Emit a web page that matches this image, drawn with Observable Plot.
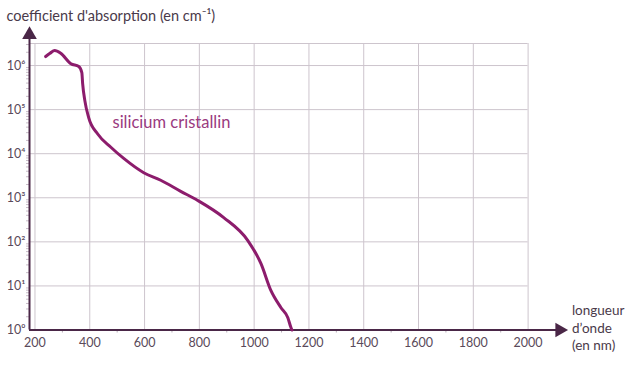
<!DOCTYPE html>
<html><head><meta charset="utf-8">
<script src="https://cdn.jsdelivr.net/npm/d3@7"></script>
<script src="https://cdn.jsdelivr.net/npm/@observablehq/plot@0.6"></script>
<style>body{margin:0;background:#fff;font-family:Raleway,Lato,sans-serif;} </style>
</head><body><div id="chart"></div>
<script>
// wavelength (nm)
const wavelength = [239, 255, 272, 294, 331, 360, 371, 374, 382, 396, 429, 477, 524, 597, 659, 732, 794, 889, 977, 1025, 1061, 1098, 1123, 1134, 1138];
// absorption coefficient (cm^-1)
const absorption = [1.6e6, 1.9e6, 2.2e6, 1.9e6, 1.1e6, 9.5e5, 6.9e5, 3.9e5, 1.6e5, 6.6e4, 2.8e4, 1.4e4, 7.8e3, 3.7e3, 2.5e3, 1.4e3, 870, 355, 107, 32, 7.9, 3.2, 1.9, 1.15, 1.0];
const xTicks = [200, 400, 600, 800, 1000, 1200, 1400, 1600, 1800, 2000];
const xMinorTicks = [300, 500, 700, 900, 1100, 1300, 1500, 1700, 1900];
const yTicks = [1, 10, 100, 1000, 10000, 100000, 1000000];
const seriesLabel = "silicium cristallin";
const yTitle = "coefficient d'absorption (en cm\u207B\u00B9)";
const xTitle = "longueur\nd\u2019onde\n(en nm)";

const sup = {"0":"\u2070","1":"\u00B9","2":"\u00B2","3":"\u00B3","4":"\u2074","5":"\u2075","6":"\u2076"};
const data = wavelength.map((w, i) => ({w, a: absorption[i]}));
const yMinor = [];
for (let e = 0; e < 6; e++) for (let k = 2; k <= 9; k++) yMinor.push(k * 10 ** e);
for (let k = 2; k <= 3; k++) yMinor.push(k * 1e6);

const gridColor = "#cdc5cd";
const axisColor = "#4a2747";
const textColor = "#5a4a5a";
const lineColor = "#8c1c6c";
const xMin = 180, yTop = 10 ** 6.5;

const chart = Plot.plot({
  width: 637, height: 366,
  marginLeft: 29, marginRight: 82, marginTop: 43, marginBottom: 36.5,
  style: {fontFamily: "Lato, sans-serif", fontSize: "12px", color: textColor, background: "#fff", overflow: "visible"},
  x: {domain: [xMin, 2100]},
  y: {type: "log", domain: [1, yTop]},
  marks: [
    Plot.ruleX(xTicks, {y1: 1, y2: yTop, stroke: gridColor, strokeWidth: 1}),
    Plot.ruleY([...yTicks, yTop], {x1: xMin, x2: 2000, stroke: gridColor, strokeWidth: 1}),
    Plot.axisX(xMinorTicks, {tickSize: 3, tickFormat: () => "", stroke: "#b8acb8"}),
    Plot.axisX(xTicks, {tickSize: 0, tickPadding: 8, tickFormat: d => String(d), fill: textColor, fontSize: 12.5, label: null}),
    Plot.axisY(yMinor, {tickSize: 3, tickFormat: () => "", stroke: "#c8bcc8"}),
    Plot.axisY(yTicks, {tickSize: 0, tickPadding: 4, tickFormat: d => "10" + sup[String(Math.round(Math.log10(d)))], fill: textColor, fontSize: 12.5, label: null}),
    // axis lines
    Plot.ruleY([1], {x1: xMin, x2: 2110, stroke: axisColor, strokeWidth: 2, clip: false}),
    Plot.ruleX([xMin], {y1: 1, y2: 10 ** 6.66, stroke: axisColor, strokeWidth: 2, clip: false}),
    Plot.dot([{x: 2115, y: 1}], {x: "x", y: "y", symbol: "triangle2", r: 7, fill: axisColor, stroke: null, rotate: 90}),
    Plot.dot([{x: xMin, y: 10 ** 6.7}], {x: "x", y: "y", symbol: "triangle2", r: 7, fill: axisColor, stroke: null}),
    // curve
    Plot.line(data, {x: "w", y: "a", stroke: lineColor, strokeWidth: 3, curve: "monotone-x"}),
    Plot.text([seriesLabel], {x: 483, y: 10 ** 4.7, text: d => d, textAnchor: "start", fill: "#9a3a80", fontSize: 16.5}),
    Plot.text([xTitle], {x: 2160, y: 1, text: d => d, textAnchor: "start", lineAnchor: "middle", dy: -3, fill: "#4a3a4a", fontSize: 13.5, lineHeight: 1.3}),
    Plot.text([yTitle], {frameAnchor: "top-left", text: d => d, textAnchor: "start", lineAnchor: "middle", dx: -23, dy: -27, fill: "#4a3a4a", fontSize: 14.5})
  ]
});
document.getElementById("chart").appendChild(chart);
</script>
</body></html>
